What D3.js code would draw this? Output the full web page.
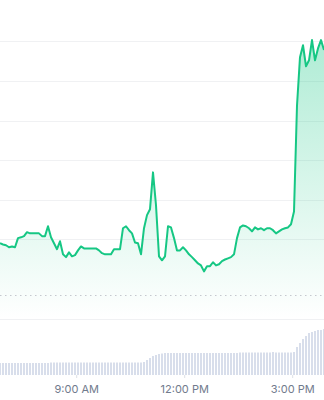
<!DOCTYPE html>
<html>
<head>
<meta charset="utf-8">
<script src="https://cdn.jsdelivr.net/npm/d3@7"></script>
<style>
  body { margin: 0; background: #fff; }
  svg { display: block; }
</style>
</head>
<body>
<script>
const w = 324;
const h = 400;

// 5 minute steps, starting 06:53
const startTime = new Date(2024, 0, 1, 6, 53);
const stepMin = 5;

const prices = [1.90, 1.87, 1.85, 1.80, 1.82, 1.80, 2.03, 2.05, 2.08, 2.18,
                2.15, 2.15, 2.15, 2.15, 2.08, 2.08, 2.33, 2.05, 1.90, 1.75,
                1.95, 1.62, 1.55, 1.67, 1.57, 1.60, 1.72, 1.82, 1.77, 1.77,
                1.77, 1.77, 1.77, 1.72, 1.65, 1.62, 1.62, 1.62, 1.75, 1.75,
                1.75, 2.28, 2.33, 2.23, 2.15, 1.92, 1.90, 1.62, 2.28, 2.61,
                2.76, 3.69, 2.86, 1.57, 1.47, 1.57, 2.33, 2.30, 2.03, 1.72,
                1.72, 1.80, 1.72, 1.62, 1.55, 1.47, 1.39, 1.34, 1.19, 1.32,
                1.32, 1.42, 1.34, 1.37, 1.45, 1.49, 1.52, 1.55, 1.62, 2.03,
                2.30, 2.35, 2.33, 2.28, 2.20, 2.30, 2.25, 2.28, 2.23, 2.28,
                2.28, 2.23, 2.15, 2.20, 2.25, 2.28, 2.30, 2.38, 2.70, 5.38,
                6.60, 6.90, 6.37, 6.52, 7.03, 6.52, 6.82, 7.03, 6.78];

const volumes = [12, 12, 12, 12, 12, 12, 12, 12, 12, 12,
                 12, 12, 12, 12, 12, 12, 12, 12.5, 12.5, 12.5,
                 12.5, 12.5, 12.5, 12.5, 12.5, 12.5, 12.5, 12.5, 12.5, 12.5,
                 12.5, 12.5, 12.5, 12.5, 12.5, 12.5, 12.5, 12.5, 12.5, 12.5,
                 12.5, 12.5, 12.5, 12.5, 12.5, 12.5, 12.5, 12.5, 13, 15,
                 17, 19, 20, 21, 21.5, 22, 22, 22, 22, 22,
                 22, 22, 22, 22, 22, 22, 22, 22, 22, 22,
                 22, 22, 22, 22, 22, 22, 22, 22, 22, 22,
                 22.5, 22.5, 22.5, 22.5, 22.5, 22.5, 22.5, 22.5, 22.5, 22.5,
                 22.5, 23, 22.5, 22.5, 22.5, 22.5, 22.5, 22.5, 23, 28,
                 32, 36, 39, 42, 43, 44, 45, 45, 46];

const gridTicks = [2, 3, 4, 5, 6, 7];
const refPrice = 0.59;
const timeTicks = ['09:00', '12:00', '15:00'];
const timeLabels = ['9:00 AM', '12:00 PM', '3:00 PM'];

const data = prices.map((p, i) => ({
  t: new Date(startTime.getTime() + i * stepMin * 60000),
  p: p,
  v: volumes[i]
}));

const x = d3.scaleTime()
  .domain([data[0].t, data[data.length - 1].t])
  .range([0, w]);

const y = d3.scaleLinear()
  .domain([0, 7])
  .range([318.5, 41.3]);

const yVol = d3.scaleLinear()
  .domain([0, 50])
  .range([375, 325]);

let svg = d3.select('body')
  .append('svg')
  .attr('width', w)
  .attr('height', h);

// gradient under the line
const grad = svg.append('defs')
  .append('linearGradient')
  .attr('id', 'fillGrad')
  .attr('gradientUnits', 'userSpaceOnUse')
  .attr('x1', 0).attr('x2', 0)
  .attr('y1', y(7)).attr('y2', y(0));
grad.append('stop')
  .attr('offset', '0%').attr('stop-color', '#16c784').attr('stop-opacity', 0.34);
grad.append('stop')
  .attr('offset', '100%').attr('stop-color', '#16c784').attr('stop-opacity', 0.0);

// grid lines
svg.selectAll('line.grid')
  .data(gridTicks)
  .enter()
  .append('line')
  .attr('class', 'grid')
  .attr('x1', 0)
  .attr('x2', w)
  .attr('y1', d => Math.round(y(d)) + 0.5)
  .attr('y2', d => Math.round(y(d)) + 0.5)
  .attr('stroke', '#f0f1f3')
  .attr('stroke-width', 1);

// baseline of price panel
svg.append('line')
  .attr('x1', 0).attr('x2', w)
  .attr('y1', Math.round(y(0)) + 0.5).attr('y2', Math.round(y(0)) + 0.5)
  .attr('stroke', '#f0f1f3');

// area + line
const area = d3.area()
  .x(d => x(d.t))
  .y0(y(0))
  .y1(d => y(d.p));

svg.append('path')
  .datum(data)
  .attr('d', area)
  .attr('fill', 'url(#fillGrad)');

// dotted reference line
svg.append('line')
  .attr('x1', 0).attr('x2', w)
  .attr('y1', Math.round(y(refPrice)) + 0.5).attr('y2', Math.round(y(refPrice)) + 0.5)
  .attr('stroke', '#c5c8cf')
  .attr('stroke-width', 1)
  .attr('stroke-dasharray', '1.5,3.5');

const line = d3.line()
  .x(d => x(d.t))
  .y(d => y(d.p));

svg.append('path')
  .datum(data)
  .attr('d', line)
  .attr('fill', 'none')
  .attr('stroke', '#16c784')
  .attr('stroke-width', 2)
  .attr('stroke-linejoin', 'round');

// volume bars
const barW = 1.6;
svg.selectAll('rect.vol')
  .data(data)
  .enter()
  .append('rect')
  .attr('class', 'vol')
  .attr('x', d => x(d.t) - barW / 2)
  .attr('y', d => yVol(d.v))
  .attr('width', barW)
  .attr('height', d => yVol(0) - yVol(d.v))
  .attr('fill', '#cfd6e6');

// x axis
const parse = d3.timeParse('%H:%M');
const tickDates = timeTicks.map(s => {
  const p = parse(s);
  return new Date(2024, 0, 1, p.getHours(), p.getMinutes());
});

const xAxis = d3.axisBottom(x)
  .tickValues(tickDates)
  .tickSize(3)
  .tickPadding(7)
  .tickFormat((d, i) => timeLabels[i]);

const gx = svg.append('g')
  .attr('transform', `translate(0,${yVol(0)})`)
  .call(xAxis);

gx.select('.domain').remove();
gx.selectAll('.tick line').attr('stroke', '#dde0e6');
gx.selectAll('.tick text')
  .attr('fill', '#717b8d')
  .attr('font-family', 'Inter, "Noto Sans", sans-serif')
  .attr('font-size', 11);
</script>
</body>
</html>
